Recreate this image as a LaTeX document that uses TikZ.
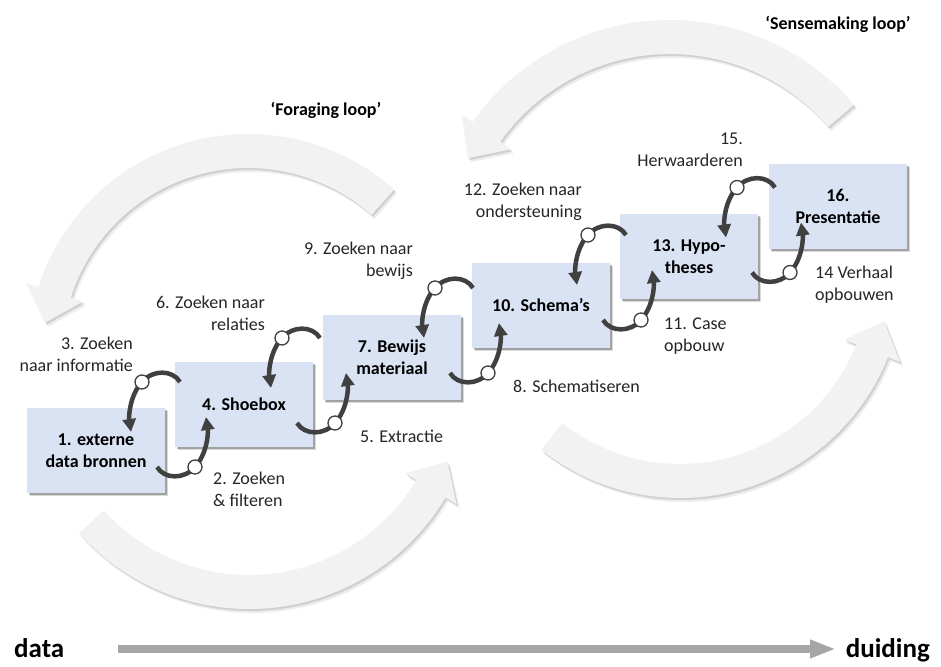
\documentclass[tikz,border=0pt]{standalone}
\usepackage{fontspec}
\setmainfont{Carlito}
\usetikzlibrary{arrows.meta,shadows,calc}
\definecolor{boxfill}{HTML}{DAE3F3}
\definecolor{conn}{HTML}{404040}
\definecolor{lbl}{HTML}{262626}
\definecolor{bigfill}{HTML}{F2F2F2}
\definecolor{axisgray}{HTML}{A6A6A6}
\tikzset{
  stepbox/.style={fill=boxfill, minimum width=138pt, minimum height=85pt, inner sep=0pt,
    align=center, font=\fontsize{18}{22}\selectfont\bfseries, text=black,
    drop shadow={shadow xshift=1.5pt, shadow yshift=-1.5pt, opacity=0.25, fill=black},
    drop shadow={shadow xshift=3pt, shadow yshift=-3pt, opacity=0.15, fill=black}},
  lab/.style={font=\fontsize{18}{22}\selectfont, text=lbl, inner sep=0pt},
  ttl/.style={font=\fontsize{18}{22}\selectfont\bfseries, text=black, inner sep=0pt},
  axlab/.style={font=\fontsize{27}{29}\selectfont\bfseries, text=black, inner sep=0pt},
  connline/.style={draw=conn, line width=4.5pt, -{Triangle[width=13pt,length=13pt]}},
  ring/.style={circle, minimum size=14pt, inner sep=0pt, fill=white, draw=conn, line width=1.3pt},
  bigarrow/.style={fill=bigfill,
    drop shadow={shadow xshift=1.5pt, shadow yshift=-2pt, opacity=0.12, fill=black},
    drop shadow={shadow xshift=3pt, shadow yshift=-4pt, opacity=0.07, fill=black}},
  axisline/.style={draw=axisgray, line width=8pt, -{Triangle[width=17pt,length=26pt]}}
}
\newcommand{\pairconn}[3]{%
 \begin{scope}[shift={(#1,#2)}]
  \coordinate (#3los) at (-11.5,42.5);
  \coordinate (#3loc) at (26.5,42.5);
  \coordinate (#3lot) at (37.5,-7.5);
  \coordinate (#3ups) at (11.5,-42.5);
  \coordinate (#3upc) at (-26.5,-42.5);
  \coordinate (#3upt) at (-37.5,7.5);
  \draw[connline] (#3los) .. controls (-4,55) and (16,55) .. (#3loc) .. controls (38,30) and (40,10) .. (#3lot);
  \draw[connline] (#3ups) .. controls (4,-55) and (-16,-55) .. (#3upc) .. controls (-38,-30) and (-40,-10) .. (#3upt);
  \node[ring] (#3lo) at (#3loc) {};
  \node[ring] (#3up) at (#3upc) {};
 \end{scope}}
\newcommand{\bigarc}[4]{% #1 centre name, #2 mid radius, #3 start angle, #4 head angle
  \path[bigarrow] ($(#1)+(#3:#2+17)$) arc[start angle=#3, end angle=#4, radius=#2+17]
    -- ($(#1)+(#4:#2+30)$) -- ($(#1)+(#4:#2)+(#4-90:32)$) -- ($(#1)+(#4:#2-30)$)
    -- ($(#1)+(#4:#2-17)$) arc[start angle=#4, end angle=#3, radius=#2-17] -- cycle;}
\begin{document}
\begin{tikzpicture}[x=1pt,y=-1pt]
\useasboundingbox (0,0) rectangle (941,666);
\fill[white] (0,0) rectangle (941,666);
% big loop arrows
\coordinate (FT) at (248,354);
\coordinate (FB) at (249,380);
\coordinate (ST) at (670,262);
\coordinate (SB) at (680,274);
\bigarc{FT}{203}{-48.4}{-162.3}
\bigarc{ST}{225}{-40.5}{-144.7}
\bigarc{FB}{212}{138}{30.9}
\bigarc{SB}{207}{128.3}{21.8}
% boxes
\node[stepbox] (b1) at (96,450.5) {1. externe\\data bronnen};
\node[stepbox] (b4) at (244,404.5) {4. Shoebox};
\node[stepbox] (b7) at (392,357.5) {7. Bewijs\\materiaal};
\node[stepbox] (b10) at (541,305.5) {10. Schema’s};
\node[stepbox] (b13) at (689,256.5) {13. Hypo-\\theses};
\node[stepbox] (b16) at (838,206.5) {16.\\Presentatie};
% connectors
\pairconn{168.5}{424.5}{pa}
\pairconn{308.5}{380.5}{pb}
\pairconn{461.5}{330.5}{pc}
\pairconn{614.5}{277.5}{pd}
\pairconn{763.5}{230}{pe}
% labels
\node[lab, anchor=east, align=right] (l3) at (133,354) {3. Zoeken\\naar informatie};
\node[lab, anchor=west, align=left] (l2) at (213,489) {2. Zoeken\\\& filteren};
\node[lab, anchor=east, align=right] (l6) at (265,313.5) {6. Zoeken naar\\relaties};
\node[lab, anchor=west] (l5) at (360,436) {5. Extractie};
\node[lab, anchor=east, align=right] (l9) at (413,261) {9. Zoeken naar\\bewijs};
\node[lab, anchor=west] (l8) at (513,386) {8. Schematiseren};
\node[lab, anchor=east, align=right] (l12) at (582,202) {12. Zoeken naar\\ondersteuning};
\node[lab, anchor=west, align=left] (l11) at (664,336) {11. Case\\opbouw};
\node[lab, anchor=east, align=right] (l15) at (743,150) {15.\\Herwaarderen};
\node[lab, anchor=west, align=left] (l14) at (815,285) {14 Verhaal\\opbouwen};
\node[ttl] (tf) at (326,110) {‘Foraging loop’};
\node[ttl] (ts) at (838,24) {‘Sensemaking loop’};
% axis
\node[axlab, anchor=base west] (data) at (14,657) {data};
\node[axlab, anchor=base east] (duiding) at (930,657) {duiding};
\coordinate (axs) at (118,649);
\coordinate (axe) at (836,649);
\draw[axisline] (axs) -- (axe);
\end{tikzpicture}
\end{document}
